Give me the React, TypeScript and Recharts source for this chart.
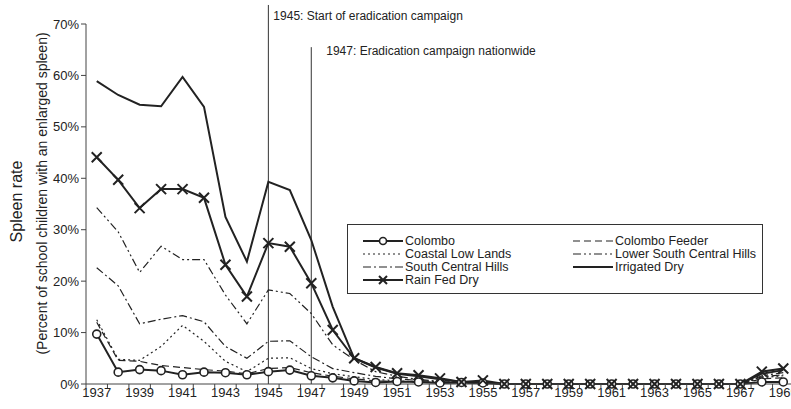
import React from 'react';
import { LineChart, Line, XAxis, YAxis, ReferenceLine, Legend } from 'recharts';

const years = [
  1937, 1938, 1939, 1940, 1941, 1942, 1943, 1944, 1945, 1946, 1947, 1948, 1949, 1950, 1951, 1952, 1953,
  1954, 1955, 1956, 1957, 1958, 1959, 1960, 1961, 1962, 1963, 1964, 1965, 1966, 1967, 1968, 1969,
];

// spleen rate, percent
const colombo = [9.7, 2.3, 2.8, 2.6, 1.8, 2.3, 2.2, 1.8, 2.4, 2.7, 1.6, 1.2, 0.6, 0.3, 0.5, 0.4, 0.2, 0.3, 0.2, 0, 0, 0, 0, 0, 0, 0, 0, 0, 0, 0, 0, 0.4, 0.4];
const colomboFeeder = [12.0, 4.6, 4.4, 3.6, 3.2, 2.8, 2.5, 2.0, 3.0, 3.2, 2.2, 1.5, 1.0, 0.6, 0.5, 0.4, 0.3, 0.2, 0.2, 0, 0, 0, 0, 0, 0, 0, 0, 0, 0, 0, 0, 1.0, 1.2];
const coastalLowLands = [12.5, 4.8, 4.6, 7.3, 11.4, 8.3, 4.4, 2.4, 5.0, 5.1, 3.0, 2.0, 1.4, 0.9, 0.6, 0.4, 0.3, 0.2, 0.2, 0, 0, 0, 0, 0, 0, 0, 0, 0, 0, 0, 0, 1.2, 1.6];
const lowerSouthCentralHills = [34.3, 29.6, 21.7, 26.8, 24.2, 24.2, 17.3, 11.7, 18.3, 17.6, 13.7, 7.6, 4.7, 2.4, 1.5, 0.9, 0.5, 0.3, 0.3, 0, 0, 0, 0, 0, 0, 0, 0, 0, 0, 0, 0, 1.6, 2.2];
const southCentralHills = [22.6, 19.1, 11.7, 12.6, 13.3, 12.1, 7.3, 5.0, 8.3, 8.4, 5.3, 3.0, 2.2, 1.5, 1.0, 0.7, 0.4, 0.3, 0.2, 0, 0, 0, 0, 0, 0, 0, 0, 0, 0, 0, 0, 1.4, 1.8];
const irrigatedDry = [58.9, 56.2, 54.3, 54.0, 59.7, 53.9, 32.5, 23.8, 39.3, 37.7, 28.0, 15.0, 5.0, 3.2, 2.0, 1.5, 0.9, 0.4, 0.4, 0, 0, 0, 0, 0, 0, 0, 0, 0, 0, 0, 0, 2.0, 2.7];
const rainFedDry = [44.1, 39.7, 34.2, 37.9, 37.9, 36.2, 23.2, 17.0, 27.4, 26.7, 19.6, 10.5, 5.0, 3.3, 2.1, 1.7, 1.1, 0.4, 0.7, 0, 0, 0, 0, 0, 0, 0, 0, 0, 0, 0, 0, 2.4, 3.0];

const yTicks = [0, 10, 20, 30, 40, 50, 60, 70];

const notes = [
  { year: 1945, top: 73.7, text: '1945: Start of eradication campaign', dx: 5, dy: 15 },
  { year: 1947, top: 65.5, text: '1947: Eradication campaign nationwide', dx: 15, dy: 8 },
];

const FONT = '"Liberation Sans", Arial, sans-serif';
const INK = '#222';

const series = [
  { key: 'colombo', name: 'Colombo', values: colombo, dash: undefined, width: 2, marker: 'circle' },
  { key: 'colomboFeeder', name: 'Colombo Feeder', values: colomboFeeder, dash: '7 4', width: 1.2, marker: null },
  { key: 'coastal', name: 'Coastal Low Lands', values: coastalLowLands, dash: '2 3', width: 1.2, marker: null },
  { key: 'lowerSCH', name: 'Lower South Central Hills', values: lowerSouthCentralHills, dash: '8 3 2 3 2 3', width: 1.2, marker: null },
  { key: 'southCH', name: 'South Central Hills', values: southCentralHills, dash: '8 3 2 3', width: 1.2, marker: null },
  { key: 'irrigated', name: 'Irrigated Dry', values: irrigatedDry, dash: undefined, width: 2, marker: null },
  { key: 'rainFed', name: 'Rain Fed Dry', values: rainFedDry, dash: undefined, width: 2, marker: 'x' },
];

const data = years.map((year, i) => {
  const row: Record<string, number> = { year };
  series.forEach((s) => (row[s.key] = s.values[i]));
  return row;
});

const xTicks = years.flatMap((y) => [y - 0.5, y]).concat(years[years.length - 1] + 0.5);

const CircleDot = (props: any) => {
  const { cx, cy } = props;
  if (cx == null || cy == null) return null;
  return <circle cx={cx} cy={cy} r={4} fill="#fff" stroke={INK} strokeWidth={1.6} />;
};

const CrossDot = (props: any) => {
  const { cx, cy } = props;
  if (cx == null || cy == null) return null;
  const s = 5;
  return (
    <path d={`M${cx - s},${cy - s}L${cx + s},${cy + s}M${cx - s},${cy + s}L${cx + s},${cy - s}`} stroke={INK} strokeWidth={2} fill="none" />
  );
};

const XTick = (props: any) => {
  const { x, y, payload } = props;
  const v = payload.value;
  if (!Number.isInteger(v)) {
    return <line x1={x} x2={x} y1={y - 4} y2={y} stroke="#444" />;
  }
  if ((v - years[0]) % 2 !== 0) return null;
  return (
    <text x={x} y={y} dy="0.71em" textAnchor="middle" fontSize={13} fill={INK} fontFamily={FONT}>
      {v}
    </text>
  );
};

const YTitle = (props: any) => {
  const vb = props.viewBox || { x: 0, y: 24, height: 360 };
  const cy = vb.y + vb.height / 2;
  return (
    <g fontFamily={FONT} fill={INK}>
      <text x={22} y={cy - 2.5} transform={`rotate(-90 22 ${cy - 2.5})`} textAnchor="middle" fontSize={16}>
        Spleen rate
      </text>
      <text x={47} y={cy - 10.5} transform={`rotate(-90 47 ${cy - 10.5})`} textAnchor="middle" fontSize={14}>
        (Percent of school children with an enlarged spleen)
      </text>
    </g>
  );
};

const Note = (props: any) => {
  const { viewBox, text, dx, dy } = props;
  if (!viewBox) return null;
  return (
    <text x={viewBox.x + dx} y={viewBox.y + dy} fontSize={12} fill={INK} fontFamily={FONT}>
      {text}
    </text>
  );
};

const Swatch = ({ s }: { s: (typeof series)[number] }) => (
  <svg width={40} height={12} style={{ marginRight: 2, flexShrink: 0 }}>
    <line x1={0} x2={40} y1={6} y2={6} stroke={INK} strokeWidth={s.width} strokeDasharray={s.dash} />
    {s.marker === 'circle' && <circle cx={20} cy={6} r={3.5} fill="#fff" stroke={INK} strokeWidth={1.6} />}
    {s.marker === 'x' && <path d="M16,2L24,10M16,10L24,2" stroke={INK} strokeWidth={2} />}
  </svg>
);

const LegendBox = () => (
  <div
    style={{
      width: 416,
      height: 70,
      boxSizing: 'border-box',
      border: '1px solid #333',
      background: '#fff',
      padding: '9px 0 0 15px',
      display: 'grid',
      gridTemplateColumns: '210px 190px',
      gridAutoRows: '13px',
      fontFamily: FONT,
      fontSize: 12.5,
      color: INK,
    }}
  >
    {series.map((s) => (
      <div key={s.key} style={{ display: 'flex', alignItems: 'center', height: 13, whiteSpace: 'nowrap' }}>
        <Swatch s={s} />
        <span>{s.name}</span>
      </div>
    ))}
  </div>
);

export default function App() {
  return (
    <div style={{ position: 'absolute', left: 0, top: 0, width: 791, height: 409, overflow: 'hidden', background: '#fff' }}>
      <LineChart width={800} height={409} data={data} margin={{ top: 24, right: 6, bottom: 0, left: 0 }}>
        <XAxis
          type="number"
          dataKey="year"
          domain={[years[0] - 0.5, years[years.length - 1] + 0.5]}
          ticks={xTicks}
          interval={0}
          allowDecimals
          tickLine={false}
          tickSize={4}
          tickMargin={0}
          tick={<XTick />}
          height={25}
          stroke="#444"
        />
        <YAxis
          domain={[0, 70]}
          ticks={yTicks}
          interval={0}
          width={86}
          tickSize={5}
          tickMargin={2}
          tickFormatter={(v) => `${v}%`}
          tick={{ fontSize: 13, fill: INK, fontFamily: FONT }}
          stroke="#444"
          label={<YTitle />}
        />
        {notes.map((n) => (
          <ReferenceLine
            key={n.year}
            segment={[{ x: n.year, y: 0 }, { x: n.year, y: n.top }]}
            ifOverflow="visible"
            stroke="#333"
            strokeWidth={1}
            label={<Note text={n.text} dx={n.dx} dy={n.dy} />}
          />
        ))}
        {series.map((s) => (
          <Line
            key={s.key}
            dataKey={s.key}
            name={s.name}
            type="linear"
            stroke={INK}
            strokeWidth={s.width}
            strokeDasharray={s.dash}
            dot={s.marker === 'circle' ? <CircleDot /> : s.marker === 'x' ? <CrossDot /> : false}
            activeDot={false}
            isAnimationActive={false}
          />
        ))}
        <Legend
          layout="vertical"
          align="center"
          verticalAlign="middle"
          content={<LegendBox />}
          wrapperStyle={{ left: 347, top: 224, width: 416, height: 70 }}
        />
      </LineChart>
    </div>
  );
}
